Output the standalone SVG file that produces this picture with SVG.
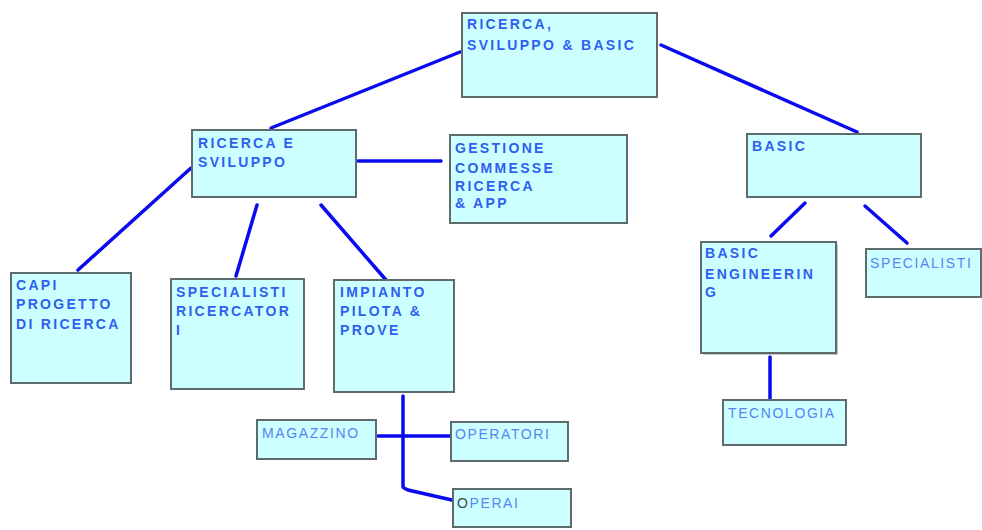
<svg xmlns="http://www.w3.org/2000/svg" width="982" height="530" viewBox="0 0 982 530">
<style>
.box{fill:#ccffff;stroke:#5f6a6a;stroke-width:2}
.b{font-family:"Liberation Sans",Arial,sans-serif;font-size:14px;font-weight:bold;fill:#2f5ff0;letter-spacing:2.3px}
.r{font-family:"Liberation Sans",Arial,sans-serif;font-size:14px;fill:#5585f5;letter-spacing:1.6px}
.c{stroke:#0a0af0;stroke-width:3.5;fill:none;stroke-linecap:round}
</style>
<rect width="982" height="530" fill="#ffffff"/>
<g id="connectors">
<line class="c" x1="460" y1="52" x2="271" y2="128"/>
<line class="c" x1="661" y1="45" x2="857" y2="132"/>
<line class="c" x1="358" y1="161" x2="441" y2="161"/>
<line class="c" x1="191" y1="168" x2="78" y2="270"/>
<line class="c" x1="257" y1="205" x2="236" y2="276"/>
<line class="c" x1="321" y1="205" x2="386" y2="280"/>
<line class="c" x1="403" y1="396" x2="403" y2="487"/>
<line class="c" x1="378" y1="436" x2="451" y2="436"/>
<polyline class="c" points="404,488 408,490 452,500"/>
<line class="c" x1="805" y1="203" x2="771" y2="236"/>
<line class="c" x1="865" y1="206" x2="907" y2="243"/>
<line class="c" x1="770" y1="357" x2="770" y2="399"/>
</g>
<g id="n-top"><rect class="box" x="462" y="13" width="195" height="84"/><text class="b" x="467" y="29">RICERCA,</text><text class="b" x="467" y="50">SVILUPPO &amp; BASIC</text></g>
<g id="n-rs"><rect class="box" x="192" y="130" width="164" height="67"/><text class="b" x="198" y="148">RICERCA E</text><text class="b" x="198" y="167">SVILUPPO</text></g>
<g id="n-gest"><rect class="box" x="450" y="135" width="177" height="88"/><text class="b" x="455" y="153">GESTIONE</text><text class="b" x="455" y="173">COMMESSE</text><text class="b" x="455" y="191">RICERCA</text><text class="b" x="455" y="208">&amp; APP</text></g>
<g id="n-basic"><rect class="box" x="747" y="134" width="174" height="63"/><text class="b" x="752" y="151">BASIC</text></g>
<g id="n-capi"><rect class="box" x="11" y="273" width="120" height="110"/><text class="b" x="16" y="290">CAPI</text><text class="b" x="16" y="309">PROGETTO</text><text class="b" x="16" y="329">DI RICERCA</text></g>
<g id="n-spec"><rect class="box" x="171" y="279" width="133" height="110"/><text class="b" x="176" y="297">SPECIALISTI</text><text class="b" x="176" y="316">RICERCATOR</text><text class="b" x="176" y="335">I</text></g>
<g id="n-imp"><rect class="box" x="334" y="280" width="120" height="112"/><text class="b" x="340" y="297">IMPIANTO</text><text class="b" x="340" y="316">PILOTA &amp;</text><text class="b" x="340" y="335">PROVE</text></g>
<g id="n-be"><rect x="703" y="244" width="135" height="111" fill="#c8c8c8"/><rect class="box" x="701" y="242" width="135" height="111"/><text class="b" x="705" y="258">BASIC</text><text class="b" x="705" y="279">ENGINEERIN</text><text class="b" x="705" y="297">G</text></g>
<g id="n-spec2"><rect class="box" x="866" y="249" width="115" height="48"/><text class="r" x="870" y="268">SPECIALISTI</text></g>
<g id="n-tec"><rect class="box" x="723" y="400" width="123" height="45"/><text class="r" x="728" y="418">TECNOLOGIA</text></g>
<g id="n-mag"><rect class="box" x="257" y="420" width="119" height="39"/><text class="r" x="262" y="438">MAGAZZINO</text></g>
<g id="n-oper"><rect class="box" x="451" y="422" width="117" height="39"/><text class="r" x="455" y="439">OPERATORI</text></g>
<g id="n-operai"><rect class="box" x="453" y="489" width="118" height="38"/><text class="r" x="457" y="508"><tspan fill="#444444">O</tspan>PERAI</text></g>
</svg>
